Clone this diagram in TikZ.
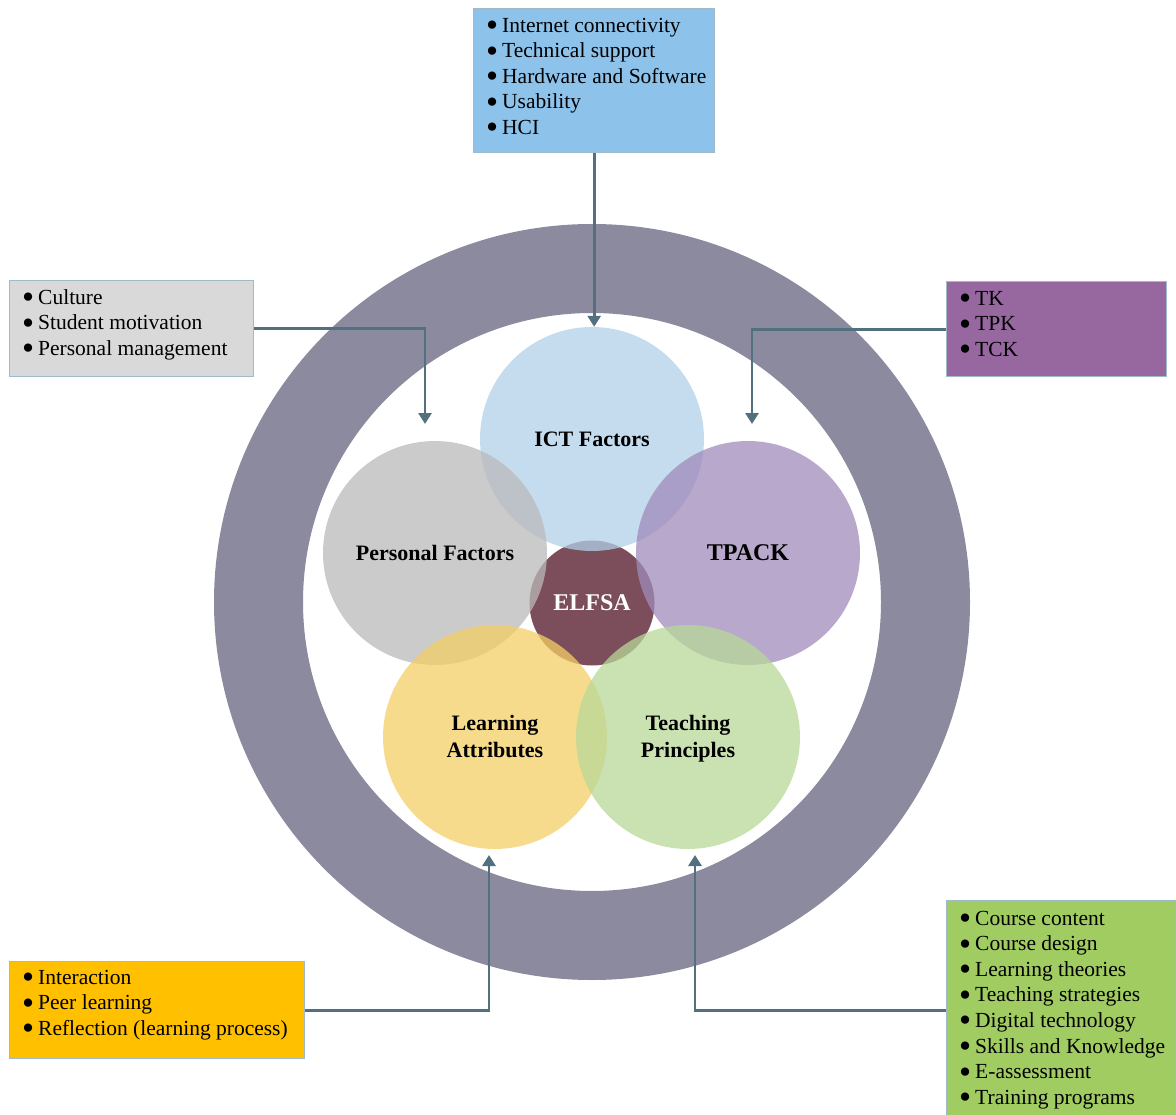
\documentclass[tikz,border=0pt]{standalone}
\usepackage{fontspec}
\setmainfont{Liberation Serif}
\usetikzlibrary{arrows.meta}

% palette
\definecolor{ringcol}{RGB}{139,138,158}
\definecolor{linkcol}{RGB}{82,112,126}
\definecolor{edgecol}{RGB}{160,186,202}
\definecolor{ictbox}{RGB}{141,194,235}
\definecolor{persbox}{RGB}{217,217,217}
\definecolor{tpackbox}{RGB}{151,104,160}
\definecolor{learnbox}{RGB}{255,192,0}
\definecolor{teachbox}{RGB}{160,204,98}
\definecolor{ictfill}{RGB}{176,208,232}
\definecolor{persfill}{RGB}{186,186,186}
\definecolor{tpackfill}{RGB}{159,139,187}
\definecolor{learnfill}{RGB}{243,207,102}
\definecolor{teachfill}{RGB}{184,216,152}
\definecolor{corefill}{RGB}{124,77,90}

% one bulleted line: a slightly enlarged bullet, then the text
\newcommand{\itm}[1]{\makebox[16pt][l]{\raisebox{-0.2em}{\scalebox{1.6}{\textbullet}}}#1}

\tikzset{
  infobox/.style={draw=edgecol, line width=1.3pt, inner sep=0pt, anchor=north west},
  listtext/.style={inner sep=0pt, anchor=north west, align=left,
    font=\fontsize{21.5pt}{25.6pt}\selectfont},
  factor/.style={circle, inner sep=0pt, minimum size=224pt, fill opacity=0.75},
  lbl/.style={font=\bfseries\fontsize{22pt}{27pt}\selectfont, align=center,
    text opacity=1, yshift=-2pt},
  biglbl/.style={lbl, font=\bfseries\fontsize{24pt}{28pt}\selectfont},
  link/.style={draw=linkcol, line width=2.8pt, -{Triangle[width=13pt,length=11pt]}},
}

\begin{document}
\begin{tikzpicture}[x=1pt,y=-1pt]
\useasboundingbox (0,0) rectangle (1176,1115);

% outer ring
\coordinate (hub) at (592,602);
\fill[ringcol, even odd rule] (hub) circle[radius=378pt] circle[radius=289pt];

% core and the five factor circles
\node[circle, inner sep=0pt, minimum size=125pt, fill=corefill] (core) at (592,603) {};
\node[factor, fill=ictfill]   (ict)   at (592,439) {};
\node[factor, fill=persfill]  (pers)  at (435,553) {};
\node[factor, fill=tpackfill] (tpack) at (748,553) {};
\node[factor, fill=learnfill] (learn) at (495,737) {};
\node[factor, fill=teachfill] (teach) at (688,737) {};

\node[lbl] at (ict)   {\strut ICT Factors};
\node[lbl] at (pers)  {\strut Personal Factors};
\node[biglbl] at (tpack) {\strut TPACK};
\node[lbl] at (learn) {\strut Learning\\\strut Attributes};
\node[lbl] at (teach) {\strut Teaching\\\strut Principles};
\node[biglbl, text=white] at (core) {\strut ELFSA};

% lists of sub-factors
\node[infobox, fill=ictbox, minimum width=241pt, minimum height=144pt] (ictlist) at (473,8) {};
\node[listtext] at ([xshift=13pt,yshift=-6pt]ictlist.north west)
  {\strut\itm{Internet connectivity}\\\itm{Technical support}\\\itm{Hardware and Software}\\\itm{Usability}\\\itm{HCI}};

\node[infobox, fill=persbox, minimum width=244pt, minimum height=96pt] (perslist) at (9,280) {};
\node[listtext] at ([xshift=13pt,yshift=-6pt]perslist.north west)
  {\strut\itm{Culture}\\\itm{Student motivation}\\\itm{Personal management}};

\node[infobox, fill=tpackbox, minimum width=220pt, minimum height=95pt] (tpacklist) at (946,281) {};
\node[listtext] at ([xshift=13pt,yshift=-6pt]tpacklist.north west)
  {\strut\itm{TK}\\\itm{TPK}\\\itm{TCK}};

\node[infobox, fill=learnbox, minimum width=295pt, minimum height=97pt] (learnlist) at (9,961) {};
\node[listtext] at ([xshift=13pt,yshift=-5pt]learnlist.north west)
  {\strut\itm{Interaction}\\\itm{Peer learning}\\\itm{Reflection (learning process)}};

\node[infobox, fill=teachbox, minimum width=229pt, minimum height=215pt] (teachlist) at (946,900) {};
\node[listtext] at ([xshift=13pt,yshift=-7pt]teachlist.north west)
  {\strut\itm{Course content}\\\itm{Course design}\\\itm{Learning theories}\\\itm{Teaching strategies}\\\itm{Digital technology}\\\itm{Skills and Knowledge}\\\itm{E-assessment}\\\itm{Training programs}};

% connectors from the lists to the circles
\coordinate (persin)  at (425,424);
\coordinate (tpackin) at (752,424);
\coordinate (learnin) at (489,855);
\coordinate (teachin) at (695,855);

\draw[link] (ictlist.south) -- (ictlist.south |- ict.north);
\draw[link] (perslist.east) -| (persin);
\draw[link] (tpacklist.west) -| (tpackin);
\draw[link] (learnlist.east) -| (learnin);
\draw[link] (teachlist.west |- learnlist.east) -| (teachin);
\end{tikzpicture}
\end{document}
